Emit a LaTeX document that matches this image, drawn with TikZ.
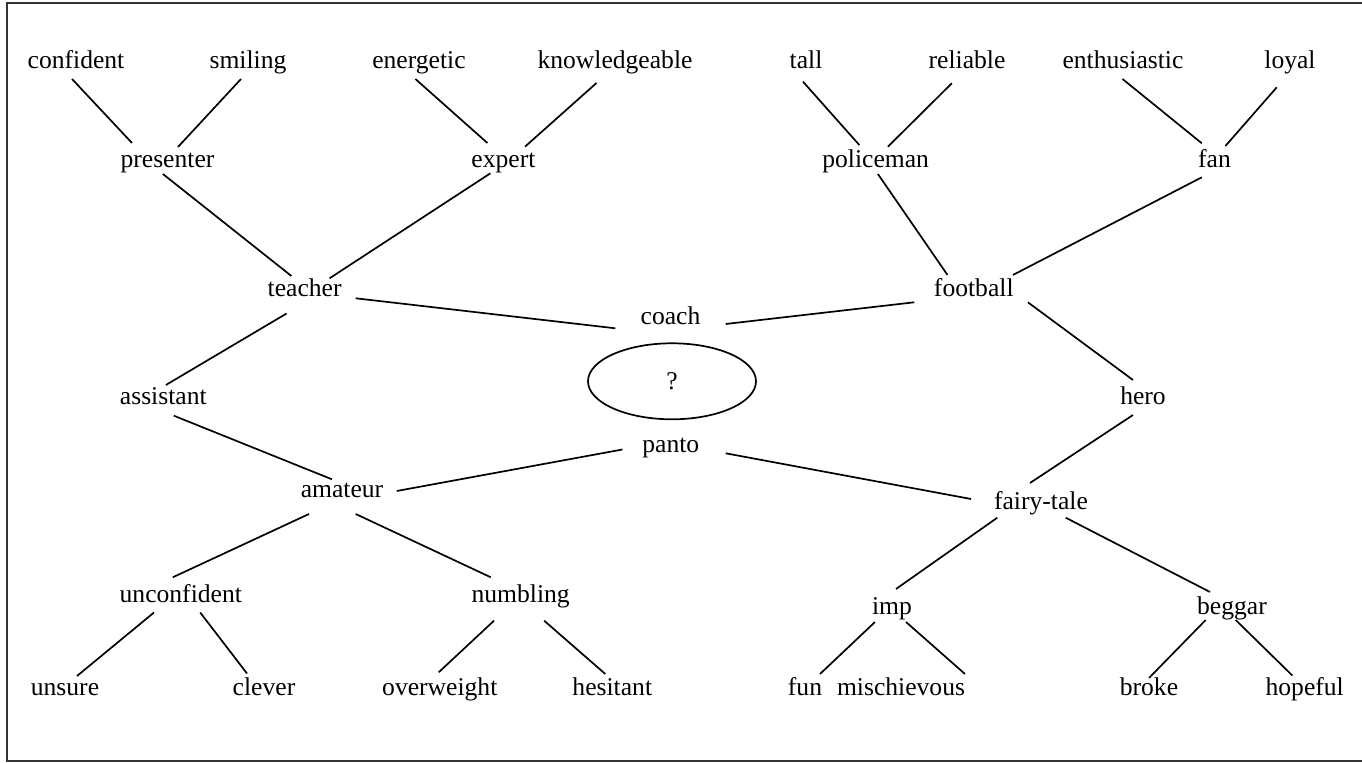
\documentclass[tikz,border=0pt]{standalone}
\usepackage{fontspec}
\setmainfont{Liberation Serif}
\usetikzlibrary{shapes.geometric}
\tikzset{
  w/.style={inner sep=0pt, anchor=base, font=\fontsize{12.8}{15}\selectfont},
  lk/.style={line width=0.85pt, black},
  frame/.style={line width=1pt, black!80},
}
\newcommand\lnk[4]{\draw[lk] ([shift={(#2)}]#1.base) -- ([shift={(#4)}]#3.base);}
\begin{document}
\begin{tikzpicture}[x=0.5pt,y=-0.5pt]
\useasboundingbox (0,0) rectangle (1362,763);
\draw[frame] (7,3) rectangle (1364,761);
% top row
\node[w] (confident) at (76,69) {confident};
\node[w] (smiling) at (248,69) {smiling};
\node[w] (energetic) at (419,69) {energetic};
\node[w] (knowledgeable) at (615,69) {knowledgeable};
\node[w] (tall) at (806,69) {tall};
\node[w] (reliable) at (967,69) {reliable};
\node[w] (enthusiastic) at (1123,69) {enthusiastic};
\node[w] (loyal) at (1290,69) {loyal};
% second row
\node[w] (presenter) at (167.5,168) {presenter};
\node[w] (expert) at (503.4,168) {expert};
\node[w] (policeman) at (875.7,168) {policeman};
\node[w] (fan) at (1214.5,168) {fan};
% middle
\node[w] (teacher) at (304.6,297) {teacher};
\node[w] (football) at (973.8,297) {football};
\node[w] (coach) at (670.5,325) {coach};
\node[draw, ellipse, line width=0.85pt, inner sep=0pt, minimum width=84pt, minimum height=38pt,
      font=\fontsize{12.8}{15}\selectfont] (q) at (672,381.3) {?};
\node[w] (assistant) at (163.3,405) {assistant};
\node[w] (hero) at (1143,405) {hero};
\node[w] (panto) at (670.8,453) {panto};
\node[w] (amateur) at (342,498) {amateur};
\node[w] (fairytale) at (1041,510) {fairy-tale};
% lower rows
\node[w] (unconfident) at (180.8,603) {unconfident};
\node[w] (numbling) at (520.7,603) {numbling};
\node[w] (imp) at (892,615) {imp};
\node[w] (beggar) at (1232,615) {beggar};
\node[w] (unsure) at (65,696) {unsure};
\node[w] (clever) at (264,696) {clever};
\node[w] (overweight) at (439.8,696) {overweight};
\node[w] (hesitant) at (612.3,696) {hesitant};
\node[w] (fun) at (805,696) {fun};
\node[w] (mischievous) at (901,696) {mischievous};
\node[w] (broke) at (1149,696) {broke};
\node[w] (hopeful) at (1304.7,696) {hopeful};
% connectors
\lnk{confident}{-4,10}{presenter}{-35.5,-25}
\lnk{smiling}{-7,10}{presenter}{10.5,-21}
\lnk{energetic}{-3.6,10}{expert}{-16,-25}
\lnk{knowledgeable}{-18.5,14}{expert}{21.6,-21.3}
\lnk{tall}{-3,12.7}{policeman}{-16.4,-23}
\lnk{reliable}{-15.2,14.3}{policeman}{12.2,-21.3}
\lnk{enthusiastic}{-0.5,10}{fan}{-12.7,-24.7}
\lnk{loyal}{-13.2,18.3}{fan}{10.9,-22}
\lnk{presenter}{-4.6,6}{teacher}{-13.2,-21}
\lnk{expert}{-13,5.3}{teacher}{25,-18.7}
\lnk{policeman}{2.2,6}{football}{-26.3,-22}
\lnk{fan}{-12.7,9.3}{football}{39.1,-22}
\lnk{teacher}{51.1,1.3}{coach}{-55.2,3.3}
\lnk{football}{-59.5,5.3}{coach}{55.2,-1}
\lnk{teacher}{-18,16.5}{assistant}{2.6,-20}
\lnk{football}{54.1,5.3}{hero}{-10,-25}
\lnk{assistant}{10.5,10.7}{amateur}{-10.1,-18.7}
\lnk{hero}{-10,10}{fairytale}{-11,-27}
\lnk{panto}{-48.3,-3.5}{amateur}{54.8,-7}
\lnk{panto}{54.9,0.3}{fairytale}{-70,-11}
\lnk{amateur}{-33,16}{unconfident}{-8,-25.7}
\lnk{amateur}{13.7,16}{numbling}{-29.9,-25.7}
\lnk{fairytale}{-43.7,7.7}{imp}{4,-26}
\lnk{fairytale}{24.7,7.7}{beggar}{-22,-23}
\lnk{unconfident}{-26.8,9.5}{unsure}{12,-20}
\lnk{unconfident}{19.4,9.5}{clever}{-17,-22.5}
\lnk{numbling}{-26.7,17.7}{overweight}{-1.1,-23.7}
\lnk{numbling}{23.5,17.7}{hesitant}{-7,-22}
\lnk{imp}{-17,7}{fun}{15,-22}
\lnk{imp}{14,7}{mischievous}{64,-22}
\lnk{beggar}{-26.3,5}{broke}{0,-18}
\lnk{beggar}{3.7,5}{hopeful}{-12.4,-20.5}
\end{tikzpicture}
\end{document}
